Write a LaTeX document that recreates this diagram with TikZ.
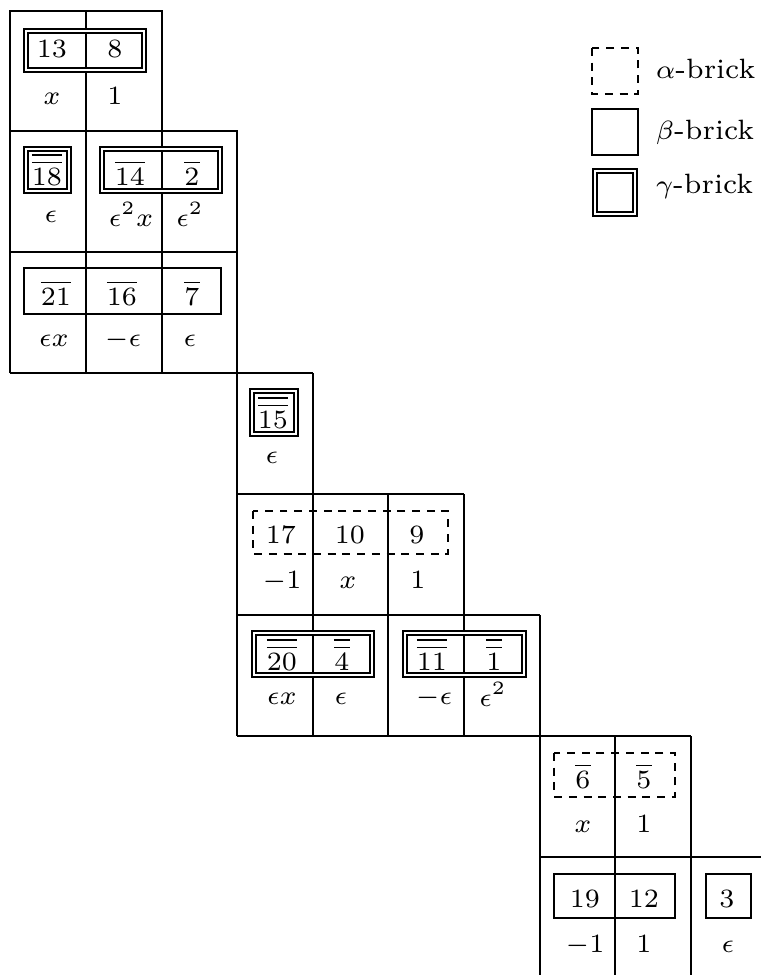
\documentclass[tikz,border=0pt]{standalone}
\begin{document}
\begin{tikzpicture}[x=.265pt,y=-.265pt,
  cellline/.style={line width=.75pt},
  abrick/.style={line width=.7pt,dash pattern=on 2.1pt off 1.8pt},
  bbrick/.style={line width=.7pt},
  gbrick/.style={line width=.55pt,double,double distance=.5pt},
  lbl/.style={anchor=base,inner sep=0pt,font=\fontsize{7.4}{9}\selectfont}]
  \useasboundingbox (0,0) rectangle (761,975);
  % cells
  \draw[cellline] (10,373)--(10,11)--(162,11)--(162,373) (86,11)--(86,373);
  \draw[cellline] (10,131)--(237,131)--(237,736) (10,252)--(237,252) (10,373)--(313,373);
  \draw[cellline] (313,373)--(313,736) (237,494)--(464,494) (388,494)--(388,736) (464,494)--(464,736);
  \draw[cellline] (237,615)--(540,615) (237,736)--(691,736);
  \draw[cellline] (540,615)--(540,975) (615,736)--(615,975) (691,736)--(691,975) (540,857)--(761,857);
  % bricks
  \draw[gbrick] (26,31) rectangle (144,70);
  \draw[gbrick] (26,149) rectangle (69,191) (102,149) rectangle (220,191);
  \draw[bbrick] (24,268) rectangle (221,314);
  \draw[gbrick] (252,391) rectangle (296,434);
  \draw[abrick] (253,511) rectangle (448,554);
  \draw[gbrick] (254,633) rectangle (372,675) (405,633) rectangle (524,675);
  \draw[abrick] (554,753) rectangle (675,797);
  \draw[bbrick] (554,874) rectangle (675,918) (706,874) rectangle (751,918);
  % entries and weights
  \foreach \px/\py/\t [count=\i] in {52/57/13,115/57/8,
      47/185/\overline{\overline{18}},130/185/\overline{14},192/185/\overline{2},
      56/305/\overline{21},122/305/\overline{16},192/305/\overline{7},
      273/428/\overline{\overline{15}},
      281/543/17,350/543/10,417/543/9,
      282/670/\overline{\overline{20}},342/670/\overline{\overline{4}},432/670/\overline{\overline{11}},494/670/\overline{\overline{1}},
      583/788/\overline{6},644/788/\overline{5},
      585/907/19,644/907/12,727/907/3}
    \node[lbl] (e\i) at (\px,\py) {$\t$};
  \foreach \px/\py/\t [count=\i] in {52/104/x,115/104/1,
      51/222/\epsilon,131/226/\epsilon^2x,190/226/\epsilon^2,
      54/346/\epsilon x,123/346/-\epsilon,190/346/\epsilon,
      272/463/\epsilon,
      282/588/-1,348/588/x,418/588/1,
      282/704/\epsilon x,341/704/\epsilon,434/704/-\epsilon,493/706/\epsilon^2,
      583/832/x,644/832/1,
      585/952/-1,644/952/1,728/952/\epsilon}
    \node[lbl] (w\i) at (\px,\py) {$\t$};
  % legend
  \draw[abrick] (592,48) rectangle (638,94);
  \draw[bbrick] (592,109) rectangle (638,155);
  \draw[gbrick] (595,171) rectangle (635,214);
  \node[lbl,anchor=base west] (la) at (655,78) {$\alpha$-brick};
  \node[lbl,anchor=base west] (lb) at (655,139) {$\beta$-brick};
  \node[lbl,anchor=base west] (lg) at (655,193) {$\gamma$-brick};
\end{tikzpicture}
\end{document}
